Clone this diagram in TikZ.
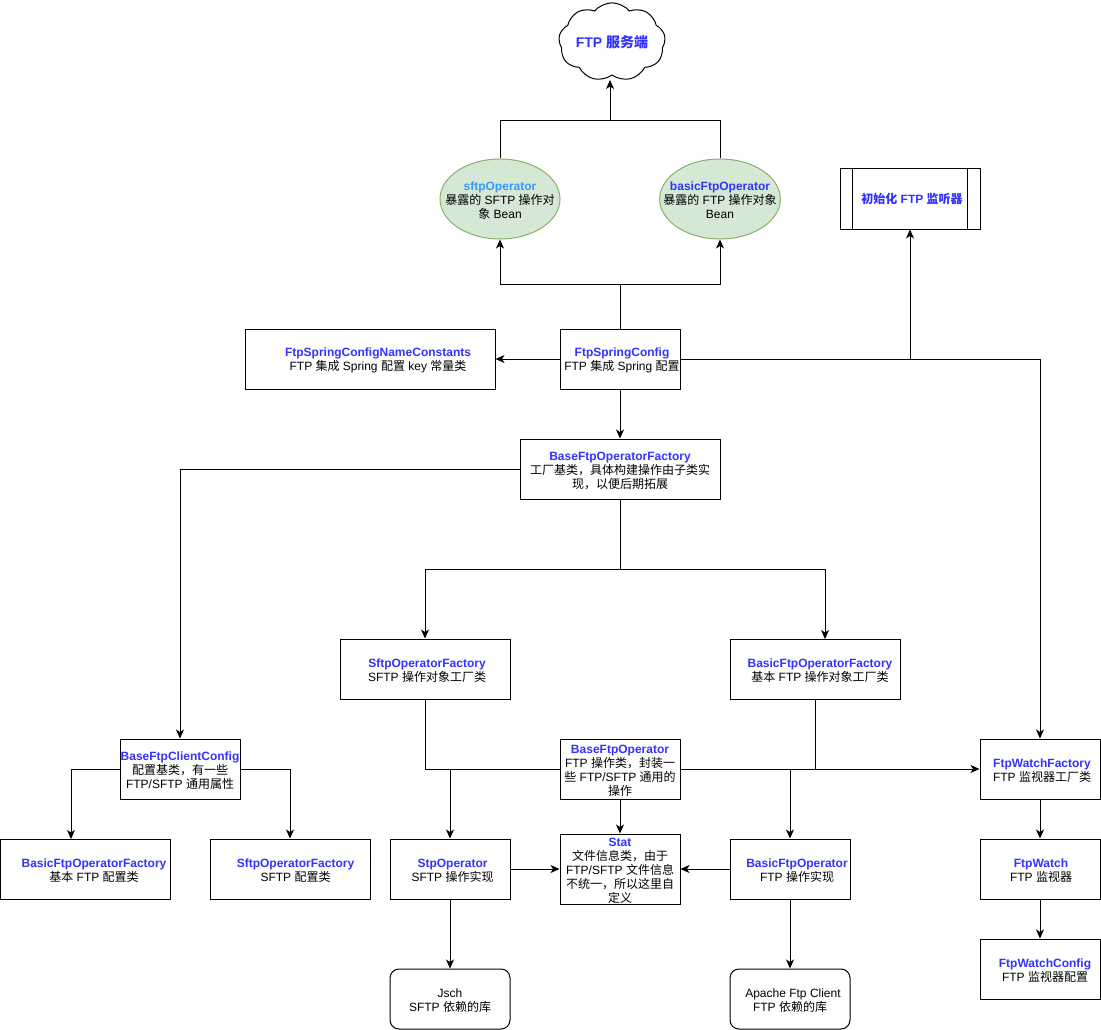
\documentclass[tikz,border=0pt]{standalone}
\usepackage{fontspec}
\setmainfont{Liberation Sans}
\newfontfamily\cjk{Noto Sans CJK SC}
\usepackage{tikz}
\usetikzlibrary{arrows.meta,calc,shapes.geometric,shapes.symbols}
\definecolor{NameBlue}{HTML}{3333FF}
\definecolor{BeanBlue}{HTML}{3399FF}
\definecolor{BeanFill}{HTML}{D5E8D4}
\definecolor{BeanLine}{HTML}{82B366}
\newcommand{\zh}[1]{{\cjk #1}}
\newcommand{\clsname}[1]{\textcolor{NameBlue}{\textbf{#1}}}
% taller first line, pushes the text a little down in its box
\newcommand{\topline}{\rule{0pt}{12pt}}
% first argument: sideways push of the text, twice the offset seen in the box
\newcommand{\clstext}[3][0]{\topline\hspace*{#1pt}\clsname{#2}\\\hspace*{#1pt}#3}
\tikzset{
  clsbox/.style={draw=black,line width=1pt,fill=white,minimum width=120pt,minimum height=60pt,
    inner sep=0pt,align=center,font=\fontsize{12pt}{14pt}\selectfont},
  libbox/.style={clsbox,rounded corners=9pt},
  beanball/.style={clsbox,ellipse,draw=BeanLine,fill=BeanFill,minimum height=80pt,inner xsep=-14pt},
  link/.style={draw=black,line width=1pt,-{Stealth[length=9pt,width=8pt,inset=2.5pt]}},
  plainlink/.style={draw=black,line width=1pt},
}
\begin{document}
\begin{tikzpicture}[x=1pt,y=-1pt]
  \useasboundingbox (0,0) rectangle (1101,1030);

  % top of the chart
  \node[cloud,cloud puffs=9,cloud puff arc=100,aspect=1.55,draw=black,line width=1pt,inner sep=0pt,
    minimum width=105pt,minimum height=66pt,font=\fontsize{14pt}{16pt}\selectfont]
    (server) at (612,42) {\clsname{FTP \zh{服务端}}};
  \node[beanball] (sftpBean) at (500,199)
    {\rule{0pt}{11pt}\textcolor{BeanBlue}{\textbf{sftpOperator}}\\\zh{暴露的} SFTP \zh{操作对}\\\zh{象} Bean};
  \node[beanball] (basicBean) at (720,199)
    {\rule{0pt}{11pt}\clsname{basicFtpOperator}\\\zh{暴露的} FTP \zh{操作对象}\\Bean};
  \node[clsbox,minimum width=140pt] (watchInit) at (910,199) {\hspace*{4pt}\clsname{\zh{初始化} FTP \zh{监听器}}};
  \draw[plainlink] ($(watchInit.north west)+(13,0)$) -- ($(watchInit.south west)+(13,0)$);
  \draw[plainlink] ($(watchInit.north east)+(-13,0)$) -- ($(watchInit.south east)+(-13,0)$);

  % spring config
  \node[clsbox,minimum width=250pt] (constants) at (370,359)
    {\clstext[16]{FtpSpringConfigNameConstants}{FTP \zh{集成} Spring \zh{配置} key \zh{常量类}}};
  \node[clsbox] (springConfig) at (620,359)
    {\clstext[4]{FtpSpringConfig}{FTP \zh{集成} Spring \zh{配置}}};
  \node[clsbox,minimum width=200pt] (baseFactory) at (620,469)
    {\topline\clsname{BaseFtpOperatorFactory}\\\zh{工厂基类，具体构建操作由子类实}\\\zh{现，以便后期拓展}};

  % factories
  \node[clsbox,minimum width=170pt] (sftpFactory) at (425,669)
    {\clstext[4]{SftpOperatorFactory}{SFTP \zh{操作对象工厂类}}};
  \node[clsbox,minimum width=170pt] (basicFactory) at (815,669)
    {\clstext[10]{BasicFtpOperatorFactory}{\zh{基本} FTP \zh{操作对象工厂类}}};

  % config classes
  \node[clsbox] (clientConfig) at (180,769)
    {\topline\clsname{BaseFtpClientConfig}\\\zh{配置基类，有一些}\\FTP/SFTP \zh{通用属性}};
  \node[clsbox,minimum width=170pt] (basicConfig) at (85,869)
    {\clstext[18]{BasicFtpOperatorFactory}{\zh{基本} FTP \zh{配置类}}};
  \node[clsbox,minimum width=160pt] (sftpConfig) at (290,869)
    {\clstext[11]{SftpOperatorFactory}{SFTP \zh{配置类}}};

  % operators
  \node[clsbox] (baseOperator) at (620,769)
    {\topline\clsname{BaseFtpOperator}\\FTP \zh{操作类，封装一}\\\zh{些} FTP/SFTP \zh{通用的}\\\zh{操作}};
  \node[clsbox,minimum height=70pt] (stat) at (620,869)
    {\topline\clsname{Stat}\\\zh{文件信息类，由于}\\FTP/SFTP \zh{文件信息}\\\zh{不统一，所以这里自}\\\zh{定义}};
  \node[clsbox] (stpOperator) at (450,869)
    {\clstext[5]{StpOperator}{SFTP \zh{操作实现}}};
  \node[clsbox] (basicOperator) at (790,869)
    {\clstext[14]{BasicFtpOperator}{FTP \zh{操作实现}}};
  \node[libbox] (jsch) at (450,999) {\topline Jsch\\SFTP \zh{依赖的库}};
  \node[libbox] (apache) at (790,999) {\topline\hspace*{6pt}Apache Ftp Client\\FTP \zh{依赖的库}};

  % watch classes
  \node[clsbox] (watchFactory) at (1040,769)
    {\clstext[4]{FtpWatchFactory}{FTP \zh{监视器工厂类}}};
  \node[clsbox] (watch) at (1040,869)
    {\clstext[2]{FtpWatch}{FTP \zh{监视器}}};
  \node[clsbox] (watchConfig) at (1040,969)
    {\clstext[10]{FtpWatchConfig}{FTP \zh{监视器配置}}};

  % free points of the connectors
  \coordinate (serverIn) at (610,80);
  \coordinate (beanJoin) at (610,121);
  \coordinate (springJoin) at (620,284);
  \coordinate (factoryJoin) at (620,569);
  \coordinate (basicIn) at (825,639);
  \coordinate (sftpDrop) at (425,769);
  \coordinate (basicDrop) at (815,769);
  \coordinate (cfgLeftIn) at (71,839);

  \draw[plainlink] (sftpBean.north) |- (beanJoin);
  \draw[plainlink] (basicBean.north) |- (beanJoin);
  \draw[link] (beanJoin) -- (serverIn);
  \draw[plainlink] (springConfig.north) -- (springJoin);
  \draw[link] (springJoin) -| (sftpBean.south);
  \draw[link] (springJoin) -| (basicBean.south);
  \draw[link] (springConfig.west) -- (constants.east);
  \draw[link] (springConfig.south) -- (baseFactory.north);
  \draw[link] (springConfig.east) -| (watchInit.south);
  \draw[link] (springConfig.east) -| (watchFactory.north);
  \draw[link] (baseFactory.west) -| (clientConfig.north);
  \draw[plainlink] (baseFactory.south) -- (factoryJoin);
  \draw[link] (factoryJoin) -| (sftpFactory.north);
  \draw[link] (factoryJoin) -| (basicIn);
  \draw[link] (clientConfig.west) -| (cfgLeftIn);
  \draw[link] (clientConfig.east) -| (sftpConfig.north);
  \draw[plainlink] (sftpFactory.south) |- (baseOperator.west);
  \draw[plainlink] (basicFactory.south) -- (basicDrop);
  \draw[link] (baseOperator.east) -- (watchFactory.west);
  \draw[link] (sftpDrop -| stpOperator.north) -- (stpOperator.north);
  \draw[link] (basicDrop -| basicOperator.north) -- (basicOperator.north);
  \draw[link] (baseOperator.south) -- (stat.north);
  \draw[link] (stpOperator.east) -- (stat.west);
  \draw[link] (basicOperator.west) -- (stat.east);
  \draw[link] (stpOperator.south) -- (jsch.north);
  \draw[link] (basicOperator.south) -- (apache.north);
  \draw[link] (watchFactory.south) -- (watch.north);
  \draw[link] (watch.south) -- (watchConfig.north);
\end{tikzpicture}
\end{document}
